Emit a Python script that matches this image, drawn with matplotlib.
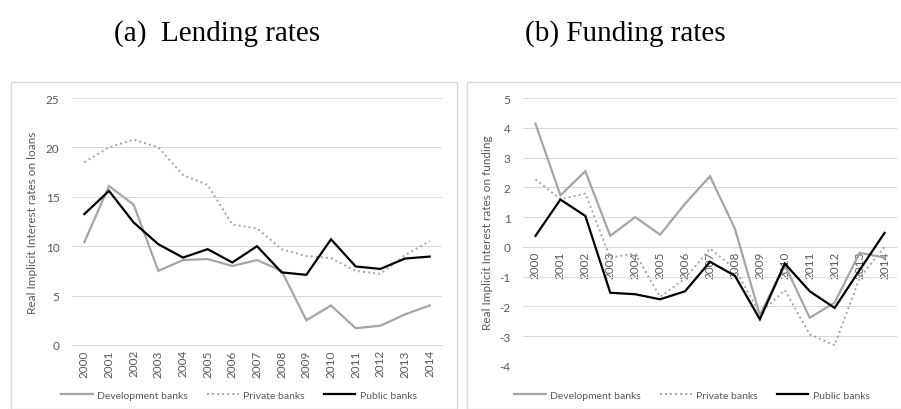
import matplotlib
matplotlib.use("Agg")
import matplotlib.pyplot as plt
from matplotlib.patches import Rectangle
import numpy as np

years = [str(y) for y in range(2000, 2015)]

# (a) Lending rates
lend_dev = [10.4, 16.1, 14.2, 7.5, 8.6, 8.7, 8.0, 8.6, 7.5, 2.5, 4.0, 1.7, 1.95, 3.1, 4.0]
lend_priv = [18.5, 20.0, 20.8, 20.0, 17.2, 16.2, 12.2, 11.8, 9.7, 9.0, 8.8, 7.5, 7.2, 9.1, 10.5]
lend_pub = [13.25, 15.6, 12.4, 10.2, 8.85, 9.7, 8.35, 10.0, 7.35, 7.1, 10.7, 7.95, 7.7, 8.75, 8.95]

# (b) Funding rates
fund_dev = [4.14, 1.73, 2.54, 0.37, 1.0, 0.41, 1.45, 2.37, 0.61, -2.29, -0.61, -2.38, -1.87, -0.2, -0.36]
fund_priv = [2.27, 1.6, 1.79, -0.36, -0.22, -1.68, -1.06, -0.06, -0.73, -2.24, -1.45, -2.94, -3.3, -1.04, 0.0]
fund_pub = [0.37, 1.59, 1.04, -1.54, -1.59, -1.76, -1.49, -0.5, -0.97, -2.43, -0.56, -1.49, -2.05, -0.78, 0.47]

series_names = ["Development banks", "Private banks", "Public banks"]
titles = ["(a)  Lending rates", "(b) Funding rates"]
ylabels = ["Real Implicit Interest rates on loans", "Real Implicit Interest rates on funding"]

W, H = 901, 410
fig = plt.figure(figsize=(W / 100, H / 100), dpi=100)

sans = ["Lato", "DejaVu Sans"]
tick_color = "#595959"
grid_color = "#D9D9D9"
grey = "#A5A5A5"

# panel frames
fig.patches.append(Rectangle((11 / W, 0), (457 - 11) / W, 1 - 83 / H, transform=fig.transFigure,
                             fill=False, edgecolor=grid_color, linewidth=1.0, zorder=0))
fig.patches.append(Rectangle((467 / W, 0), (905 - 467) / W, 1 - 83 / H, transform=fig.transFigure,
                             fill=False, edgecolor=grid_color, linewidth=1.0, zorder=0))

axes_px = [(72, 442, 99, 346), (523, 897, 99, 367)]
ylims = [(0, 25), (-4, 5)]
yticks = [np.arange(0, 26, 5), np.arange(-4, 6, 1)]
data = [(lend_dev, lend_priv, lend_pub), (fund_dev, fund_priv, fund_pub)]
ylabel_x = [38, 493]
title_x = [217, 625]
legend_y = 396

x = np.arange(len(years))
for i in range(2):
    x0, x1, yt, yb = axes_px[i]
    ax = fig.add_axes([x0 / W, 1 - yb / H, (x1 - x0) / W, (yb - yt) / H])
    dev, priv, pub = data[i]
    l1, = ax.plot(x, dev, color=grey, lw=1.6, solid_joinstyle="miter", zorder=3)
    l2, = ax.plot(x, priv, color=grey, lw=1.4, linestyle=(0, (1, 1.6)), zorder=3)
    l3, = ax.plot(x, pub, color="black", lw=1.6, solid_joinstyle="miter", zorder=4)
    ax.set_xlim(-0.5, len(years) - 0.5)
    ax.set_ylim(*ylims[i])
    ax.set_yticks(yticks[i])
    ax.set_yticklabels([str(v) for v in yticks[i]])
    ax.set_xticks(x)
    ax.set_xticklabels(years)
    ax.grid(axis="y", color=grid_color, lw=0.75, zorder=0)
    ax.set_axisbelow(True)
    for s in ["top", "right", "left"]:
        ax.spines[s].set_visible(False)
    ax.spines["bottom"].set_color(grid_color)
    ax.spines["bottom"].set_linewidth(0.75)
    ax.spines["bottom"].set_position(("data", 0))
    ax.tick_params(axis="both", length=0, labelsize=8.5, labelcolor=tick_color)
    ax.tick_params(axis="y", pad=9)
    ax.tick_params(axis="x", pad=3, labelrotation=90)
    for lab in ax.get_xticklabels() + ax.get_yticklabels():
        lab.set_family(sans)
    ax.set_ylabel(ylabels[i], fontsize=8.5, color=tick_color, family=sans)
    ax.yaxis.set_label_coords((ylabel_x[i] - x0) / (x1 - x0), 0.5)
    fig.text(title_x[i] / W, 1 - 34 / H, titles[i], ha="center", va="center",
             fontsize=21, family=["Liberation Serif", "DejaVu Serif"])
    leg = ax.legend([l1, l2, l3], series_names, ncol=3, frameon=False, loc="center",
                    bbox_to_anchor=(((x0 + x1) / 2 - 18) / W, 1 - legend_y / H),
                    bbox_transform=fig.transFigure, handlelength=3.0, handletextpad=0.4,
                    columnspacing=1.9, prop={"family": sans, "size": 7.5})
    for t in leg.get_texts():
        t.set_color(tick_color)

fig.savefig("out.png", dpi=100)
